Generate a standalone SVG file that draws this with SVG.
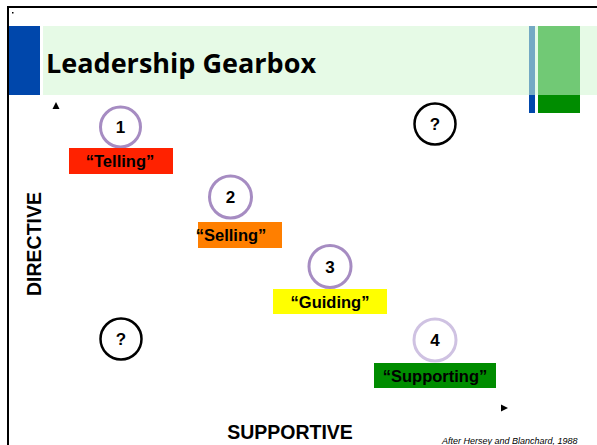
<svg xmlns="http://www.w3.org/2000/svg" width="597" height="445" viewBox="0 0 597 445">
<style>
.lbl{font-family:"Liberation Sans",Arial,sans-serif;font-weight:bold;font-size:16.5px;text-anchor:middle;fill:#000}
.num{font-family:"Liberation Sans",Arial,sans-serif;font-weight:bold;font-size:17px;text-anchor:middle;fill:#000}
.gear{fill:#fff;stroke:#A68CC2;stroke-width:3}
.q{fill:#fff;stroke:#000;stroke-width:2.5}
.axis{font-family:"Liberation Sans",Arial,sans-serif;font-weight:bold;font-size:19.5px;fill:#000}
</style>
<rect width="597" height="445" fill="#fff"/>
<g id="frame">
<line x1="8" y1="7" x2="597" y2="7" stroke="#000" stroke-width="2"/>
<line x1="8" y1="6" x2="8" y2="445" stroke="#000" stroke-width="2"/>
<rect x="12" y="12" width="1.5" height="1.5" fill="#000"/>
</g>
<g id="title">
<rect x="9" y="26" width="31" height="69" fill="#0047AB"/>
<rect x="43" y="26" width="554" height="69" fill="#E6FAE6"/>
<rect x="529" y="26" width="6" height="69" fill="#74A9C4"/>
<rect x="529" y="95" width="6" height="18" fill="#0047AB"/>
<rect x="538" y="26" width="42" height="69" fill="#71C975"/>
<rect x="538" y="95" width="42" height="18" fill="#008C00"/>
<text x="46" y="73" font-family="'Open Sans','Noto Sans',sans-serif" font-weight="bold" font-size="26" textLength="270" lengthAdjust="spacingAndGlyphs" fill="#000">Leadership Gearbox</text>
</g>
<g id="axes">
<polygon points="56,102 52.5,109 59.5,109" fill="#000"/>
<polygon points="508,408 501,404.5 501,411.5" fill="#000"/>
<text class="axis" transform="translate(41,244) rotate(-90)" text-anchor="middle">DIRECTIVE</text>
<text class="axis" x="290" y="439" text-anchor="middle">SUPPORTIVE</text>
<text x="442" y="444" font-family="'Liberation Sans',Arial,sans-serif" font-style="italic" font-size="9" fill="#000">After Hersey and Blanchard, 1988</text>
</g>
<g id="node1">
<circle class="gear" cx="120.5" cy="127" r="20"/>
<text class="num" x="120.5" y="133">1</text>
<rect x="69" y="148" width="104" height="26" fill="#FF2200"/>
<text class="lbl" x="120" y="167">“Telling”</text>
</g>
<g id="node2">
<circle class="gear" cx="230.5" cy="197" r="21"/>
<text class="num" x="230.5" y="203">2</text>
<rect x="198" y="222" width="84" height="26" fill="#FF7F00"/>
<text class="lbl" x="231" y="241">“Selling”</text>
</g>
<g id="node3">
<circle class="gear" cx="330" cy="266.5" r="21"/>
<text class="num" x="330" y="273">3</text>
<rect x="273" y="289" width="114" height="25" fill="#FFFF00"/>
<text class="lbl" x="330" y="308">“Guiding”</text>
</g>
<g id="node4">
<circle class="gear" cx="435" cy="340" r="21" style="stroke:#CFC2E2"/>
<text class="num" x="435" y="346">4</text>
<rect x="374" y="363" width="122" height="25" fill="#008C00"/>
<text class="lbl" x="435" y="382">“Supporting”</text>
</g>
<g id="q1">
<circle class="q" cx="435" cy="124" r="20.5"/>
<text class="num" x="435" y="130">?</text>
</g>
<g id="q2">
<circle class="q" cx="121" cy="339" r="20.5"/>
<text class="num" x="121" y="345">?</text>
</g>
</svg>
